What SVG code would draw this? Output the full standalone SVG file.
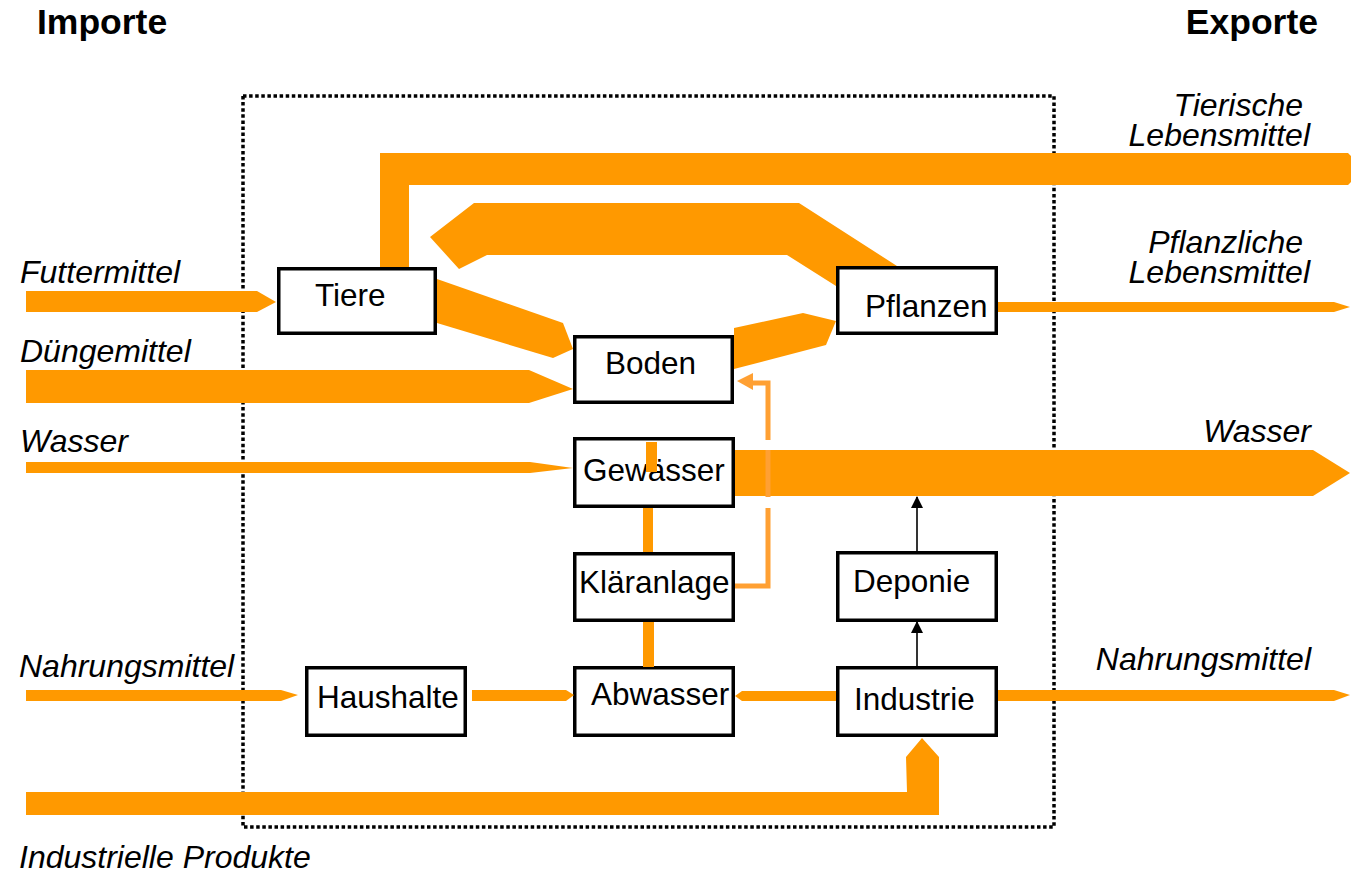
<svg xmlns="http://www.w3.org/2000/svg" width="1351" height="876" viewBox="0 0 1351 876">
<style>
.box{fill:#fff;stroke:#000;stroke-width:3.5}
.bt{font-family:"Liberation Sans",Arial,sans-serif;font-size:31.5px;fill:#000}
.lb{font-family:"Liberation Sans",Arial,sans-serif;font-size:32px;font-style:italic;fill:#000}
.hd{font-family:"Liberation Sans",Arial,sans-serif;font-size:35.5px;font-weight:bold;fill:#000}
.fl{fill:#FF9900;stroke:none}
.thin{fill:none;stroke:#FFA033;stroke-width:5}
.blk{fill:none;stroke:#000;stroke-width:1.6}
</style>
<defs>
<marker id="ah" viewBox="0 0 12 12" refX="11" refY="6" markerWidth="12" markerHeight="12" markerUnits="userSpaceOnUse" orient="auto">
<path d="M0,0 L12,6 L0,12 Z" fill="#000"/>
</marker>
</defs>
<rect width="1351" height="876" fill="#fff"/>
<text class="hd" x="37" y="34">Importe</text>
<text class="hd" x="1318" y="34" text-anchor="end">Exporte</text>
<rect x="243" y="96" width="811" height="731" fill="none" stroke="#000" stroke-width="3.5" stroke-dasharray="3.5 2.6"/>
<g id="labels">
<text class="lb" x="1303" y="116" text-anchor="end">Tierische</text>
<text class="lb" x="1310" y="146" text-anchor="end">Lebensmittel</text>
<text class="lb" x="1303" y="253" text-anchor="end">Pflanzliche</text>
<text class="lb" x="1310" y="283" text-anchor="end">Lebensmittel</text>
<text class="lb" x="1311" y="442" text-anchor="end">Wasser</text>
<text class="lb" x="1311" y="670" text-anchor="end">Nahrungsmittel</text>
<text class="lb" x="20" y="283">Futtermittel</text>
<text class="lb" x="20" y="362">Düngemittel</text>
<text class="lb" x="20" y="452">Wasser</text>
<text class="lb" x="19" y="677">Nahrungsmittel</text>
<text class="lb" x="19" y="868">Industrielle Produkte</text>
</g>
<g id="tiere"><rect class="box" x="278.75" y="268.75" width="156.5" height="64.5"/><text class="bt" x="315" y="306">Tiere</text></g>
<g id="pflanzen"><rect class="box" x="837.75" y="267.75" width="158.5" height="65.5"/><text class="bt" x="865" y="317">Pflanzen</text></g>
<g id="boden"><rect class="box" x="574.75" y="336.75" width="157.5" height="65.5"/><text class="bt" x="605" y="374">Boden</text></g>
<g id="gewaesser"><rect class="box" x="574.75" y="438.75" width="158.5" height="67.5"/><text class="bt" x="583" y="481">Gewässer</text></g>
<g id="klaeranlage"><rect class="box" x="574.75" y="553.75" width="158.5" height="66.5"/><text class="bt" x="579" y="593">Kläranlage</text></g>
<g id="abwasser"><rect class="box" x="574.75" y="667.75" width="158.5" height="67.5"/><text class="bt" x="591" y="705">Abwasser</text></g>
<g id="deponie"><rect class="box" x="837.75" y="552.75" width="158.5" height="67.5"/><text class="bt" x="853" y="592">Deponie</text></g>
<g id="industrie"><rect class="box" x="837.75" y="667.75" width="158.5" height="67.5"/><text class="bt" x="854" y="710">Industrie</text></g>
<g id="haushalte"><rect class="box" x="306.75" y="667.75" width="158.5" height="67.5"/><text class="bt" x="317" y="708">Haushalte</text></g>
<g id="connectors">
<polygon class="fl" points="380,267 380,153 1348,153 1351,156 1351,182 1348,185 409,185 409,267"/>
<polygon class="fl" points="430,237 474,203 799,203 897,266 836,266 836,286 787,255 487,255 459,269"/>
<polygon class="fl" points="437,279 563,323 573,349 553,358 437,323"/>
<polygon class="fl" points="734,328 803,313 836,321 826,345 734,369"/>
<polygon class="fl" points="26,291 257,291 276,302 257,312 26,312"/>
<polygon class="fl" points="26,370 529,370 573,389 529,403 26,403"/>
<polygon class="fl" points="26,462 530,462 573,468 530,473 26,473"/>
<polygon class="fl" points="998,302 1334,302 1350,307 1334,312 998,312"/>
<polygon class="fl" points="735,450 1313,450 1350,473 1313,496 735,496"/>
<rect class="fl" x="646" y="442" width="11" height="30"/>
<rect class="fl" x="643" y="508" width="10" height="44"/>
<rect class="fl" x="643" y="622" width="11" height="45"/>
<path class="thin" d="M735,586 H768 V383 H750"/>
<polygon points="737,381 753,373 753,390" fill="#FFA033"/>
<rect x="758" y="440" width="21" height="10" fill="#fff"/>
<rect x="758" y="497" width="21" height="11" fill="#fff"/>
<polygon class="fl" points="26,690 281,690 298,695 281,701 26,701"/>
<polygon class="fl" points="472,690 566,690 574,695 566,701 472,701"/>
<polygon class="fl" points="836,691 742,691 735,696 742,701 836,701"/>
<polygon class="fl" points="998,690 1334,690 1350,695 1334,701 998,701"/>
<polygon class="fl" points="26,792 907,792 906,757 922,738 939,757 939,815 26,815"/>
<line class="blk" x1="917" y1="551" x2="917" y2="497" marker-end="url(#ah)"/>
<line class="blk" x1="917" y1="666" x2="917" y2="622" marker-end="url(#ah)"/>
</g>
</svg>
